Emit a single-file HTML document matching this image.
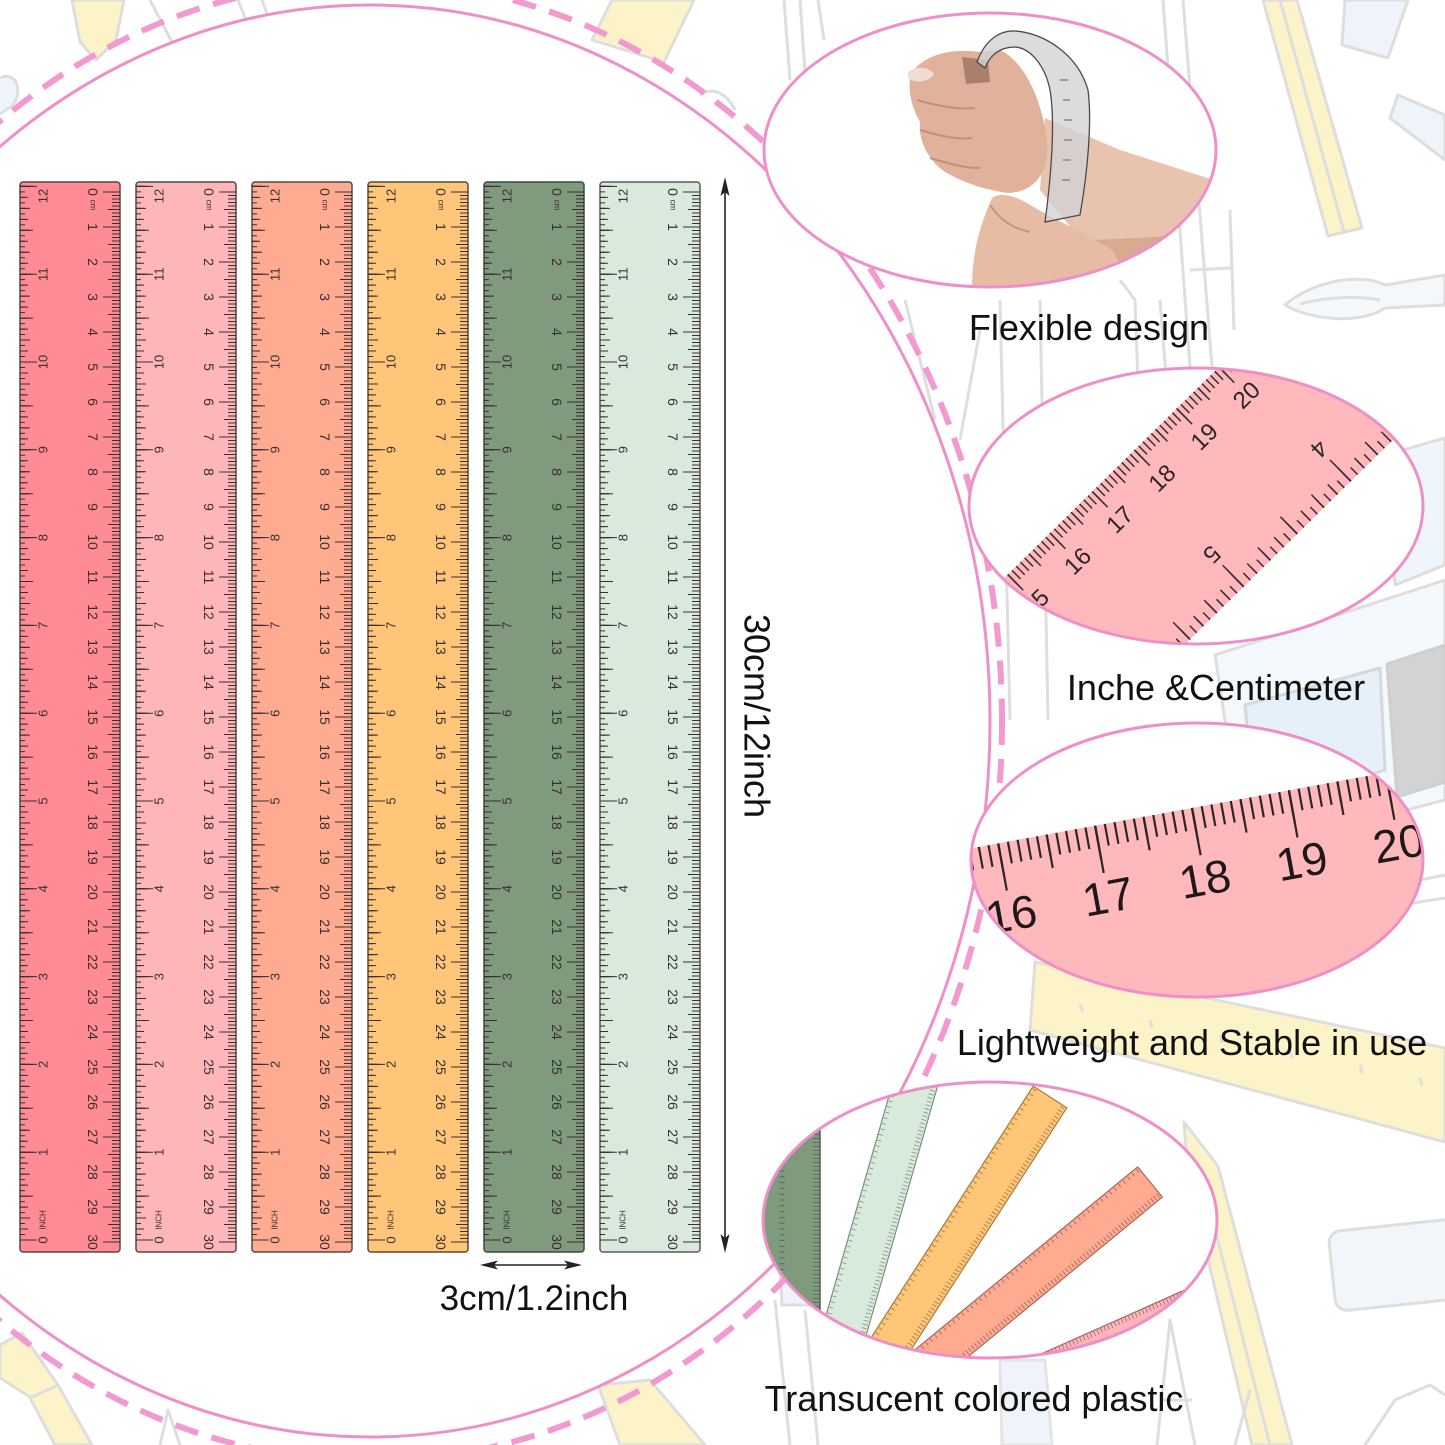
<!DOCTYPE html>
<html>
<head>
<meta charset="utf-8">
<style>
html,body{margin:0;padding:0;background:#fff;}
body{width:1445px;height:1445px;overflow:hidden;}
svg{display:block;}
text{font-family:"Liberation Sans",Arial,sans-serif;}
</style>
</head>
<body>
<svg width="1445" height="1445" viewBox="0 0 1445 1445" xmlns="http://www.w3.org/2000/svg">
<defs>
  <clipPath id="c1"><ellipse cx="990" cy="150" rx="226" ry="137"/></clipPath>
  <clipPath id="c2"><ellipse cx="1196" cy="506" rx="227" ry="138"/></clipPath>
  <clipPath id="c3"><ellipse cx="1197" cy="860" rx="226" ry="137"/></clipPath>
  <clipPath id="c4"><ellipse cx="990" cy="1220" rx="227" ry="138"/></clipPath>

  <g id="rt">
    <g stroke="#3a2f2f" fill="none">
      <line x1="9.5" y1="4" x2="1061" y2="4" stroke-width="8" stroke-dasharray="1 2.5"/>
      <line x1="9.5" y1="6" x2="1061" y2="6" stroke-width="12" stroke-dasharray="1 16.5"/>
      <line x1="9.5" y1="8.5" x2="1061" y2="8.5" stroke-width="17" stroke-dasharray="1 34"/>
      <line x1="1058.5" y1="97.5" x2="2" y2="97.5" stroke-width="5" stroke-dasharray="1 4.4875"/>
      <line x1="1058.5" y1="96" x2="2" y2="96" stroke-width="8" stroke-dasharray="1 9.975"/>
      <line x1="1058.5" y1="95" x2="2" y2="95" stroke-width="10" stroke-dasharray="1 20.95"/>
      <line x1="1058.5" y1="93.5" x2="2" y2="93.5" stroke-width="13" stroke-dasharray="1 42.9"/>
      <line x1="1058.5" y1="91.5" x2="2" y2="91.5" stroke-width="17" stroke-dasharray="1 86.8"/>
    </g>
    <g fill="#3a2f2f" font-size="14" text-anchor="middle" dominant-baseline="central">
      <text x="10" y="27">0</text>
      <text x="23" y="27" font-size="8">cm</text>
      <text x="45" y="27">1</text><text x="80" y="27">2</text><text x="115" y="27">3</text>
      <text x="150" y="27">4</text><text x="185" y="27">5</text><text x="220" y="27">6</text>
      <text x="255" y="27">7</text><text x="290" y="27">8</text><text x="325" y="27">9</text>
      <text x="360" y="27">10</text><text x="395" y="27">11</text><text x="430" y="27">12</text>
      <text x="465" y="27">13</text><text x="500" y="27">14</text><text x="535" y="27">15</text>
      <text x="570" y="27">16</text><text x="605" y="27">17</text><text x="640" y="27">18</text>
      <text x="675" y="27">19</text><text x="710" y="27">20</text><text x="745" y="27">21</text>
      <text x="780" y="27">22</text><text x="815" y="27">23</text><text x="850" y="27">24</text>
      <text x="885" y="27">25</text><text x="920" y="27">26</text><text x="955" y="27">27</text>
      <text x="990" y="27">28</text><text x="1025" y="27">29</text><text x="1060" y="27">30</text>
    </g>
    <g fill="#3a2f2f" font-size="13" text-anchor="middle" dominant-baseline="central" transform="rotate(180)">
      <text x="-1058" y="-77">0</text>
      <text x="-1038" y="-77" font-size="8">INCH</text>
      <text x="-970.2" y="-77">1</text><text x="-882.4" y="-77">2</text><text x="-794.6" y="-77">3</text>
      <text x="-706.8" y="-77">4</text><text x="-619" y="-77">5</text><text x="-531.2" y="-77">6</text>
      <text x="-443.4" y="-77">7</text><text x="-355.6" y="-77">8</text><text x="-267.8" y="-77">9</text>
      <text x="-180" y="-77">10</text><text x="-92.2" y="-77">11</text><text x="-14" y="-77">12</text>
    </g>
  </g>
</defs>

<rect width="1445" height="1445" fill="#fff"/>

<!-- background line art -->
<g stroke="#dedede" stroke-width="3" stroke-linejoin="round" fill="none">
  <polygon points="72,0 124,0 116,40 96,60 80,42" fill="#fcf4c8"/>
  <path d="M150,0 L175,48 M238,0 L250,30 M262,0 L270,22"/>
  <path d="M0,78 C16,70 24,92 12,106 L0,114" fill="#eef4fa"/>
  <polygon points="612,0 694,0 664,62 592,40" fill="#fcf4c8"/>
  <path d="M700,95 C715,85 728,96 735,110"/>
  <path d="M784,0 L790,80 M800,0 L806,86 M818,0 L824,40"/>
  <path d="M1163,0 L1190,367 M1183,0 L1212,367 M1230,210 L1234,330 M1190,270 L1232,268"/>
  <polygon points="1263,0 1297,0 1362,228 1328,236" fill="#fcf4c8"/>
  <path d="M1280,0 L1344,232"/>
  <polygon points="1345,0 1408,0 1388,58 1342,45" fill="#eef4fa"/>
  <polygon points="1398,95 1445,115 1445,160 1390,118" fill="#eef4fa"/>
  <path d="M1285,305 C1310,282 1360,272 1385,285 L1445,275 L1445,305 L1385,308 C1360,325 1310,320 1285,305 Z" fill="#f4f8fb"/>
  <path d="M1300,304 C1330,296 1360,296 1380,300"/>
  <path d="M1000,300 L1010,720 M1040,300 L1048,720 M905,300 L935,420 M980,330 L960,440"/>
  <path d="M1120,280 L1135,300 L1140,440 M1160,300 L1172,450" />
  <polygon points="1385,455 1445,438 1445,565 1395,585" fill="#eef5fb"/>
  <polygon points="1215,655 1445,580 1445,800 1245,852" fill="#f3f8fc"/>
  <polygon points="1245,705 1380,668 1385,770 1255,810" fill="#e6f0f8" stroke="#d8d8d8"/>
  <polygon points="1387,664 1445,645 1445,782 1397,797" fill="#d3d3d3" stroke="#cfcfcf"/>
  <path d="M1420,880 L1445,875 M1400,905 L1445,898"/>
  <polygon points="1035,962 1445,1048 1445,1142 1030,1030" fill="#fcf4c8"/>
  <path d="M1080,1005 L1083,1012 M1150,1020 L1152,1028 M1220,1035 L1222,1043 M1290,1050 L1292,1058 M1360,1065 L1362,1073 M1420,1078 L1422,1086"/>
  <polygon points="1184,1122 1218,1166 1292,1445 1252,1445 1188,1175" fill="#fcf4c8"/>
  <path d="M1200,1170 L1270,1445"/>
  <rect x="1328" y="1232" width="140" height="80" rx="12" fill="#f1f6fb" transform="rotate(-6 1328 1232)"/>
  <path d="M1157,1445 L1170,1320 L1195,1445 M1162,1400 L1192,1400"/>
  <path d="M1365,1445 L1395,1400 L1430,1385 L1445,1395"/>
  <path d="M1235,1445 L1250,1390"/>
  <polygon points="1000,1360 1045,1360 1052,1445 1002,1445" fill="#eef4fa" stroke="#e4e4e4"/>
  <polygon points="598,1385 650,1380 705,1445 620,1445" fill="#fcf4c8"/>
  <polygon points="780,1268 812,1270 812,1305 782,1305" fill="#eef4fa"/>
  <path d="M775,1300 L790,1445 M805,1310 L818,1445"/>
  <polygon points="0,1345 22,1333 58,1385 35,1400 0,1378" fill="#fcf4c8"/>
  <polygon points="30,1398 58,1385 92,1445 55,1445" fill="#fcf4c8"/>
  <path d="M160,1445 L168,1410 L180,1445"/>
</g>

<!-- big left ellipse -->
<ellipse cx="370" cy="721" rx="620" ry="716" fill="#fff"/>
<ellipse cx="370" cy="721" rx="632" ry="740" fill="none" stroke="#f29ad0" stroke-width="6" stroke-dasharray="24 14"/>
<ellipse cx="370" cy="721" rx="620" ry="716" fill="none" stroke="#ee8fc9" stroke-width="3"/>

<!-- E1 hand -->
<ellipse cx="990" cy="150" rx="226" ry="137" fill="#fff"/>
<g clip-path="url(#c1)">
  <polygon points="1045,118 1120,150 1220,182 1220,232 1140,262 1085,245 1040,190" fill="#e8c3ad"/>
  <path d="M1090,240 C1140,238 1180,236 1220,230 L1220,262 L1130,270 Z" fill="#d9a990"/>
  <path d="M912,72 C925,55 950,48 980,52 L1000,50 C1025,62 1042,100 1047,140 C1050,172 1035,192 1008,193 C985,190 962,182 945,172 C928,160 918,140 920,122 C912,108 906,88 912,72 Z" fill="#e0b29b"/>
  <path d="M917,100 C935,105 955,110 975,108 M920,130 C940,136 958,140 972,138 M930,158 C950,164 965,168 980,168" stroke="#c39079" stroke-width="2" fill="none"/>
  <path d="M908,72 C915,66 928,66 934,74 C928,82 916,84 908,78 Z" fill="#f1dcd2"/>
  <path d="M962,57 L988,60 L990,82 L966,84 Z" fill="#a8806c"/>
  <path d="M972,290 C972,255 978,230 992,198 C1000,192 1015,195 1032,206 C1055,220 1090,235 1112,250 C1122,262 1118,280 1108,292 Z" fill="#e6bca5"/>
  <path d="M990,205 C1000,220 1012,228 1030,232" stroke="#c8957c" stroke-width="2" fill="none"/>
  <path d="M977,62 C985,40 1000,30 1015,31 C1045,33 1078,55 1088,90 C1092,120 1088,170 1080,215 L1045,222 C1052,170 1055,120 1050,90 C1045,65 1030,48 1015,47 C1000,47 990,55 985,68 Z" fill="#d2d2d6" fill-opacity="0.78" stroke="#4a4a4a" stroke-width="1.3"/>
  <path d="M1060,80 L1068,80 M1063,100 L1070,100 M1064,120 L1072,120 M1064,140 L1072,140 M1063,160 L1071,160 M1062,180 L1070,180" stroke="#888" stroke-width="1.5"/>
</g>
<ellipse cx="990" cy="150" rx="226" ry="137" fill="none" stroke="#ee8fc9" stroke-width="3"/>

<!-- E2 -->
<ellipse cx="1196" cy="506" rx="227" ry="138" fill="#fff"/>
<g clip-path="url(#c2)">
  <g transform="translate(1050,533) rotate(-44.5)">
    <rect x="-450" y="0" width="1000" height="174" fill="#ffb8bc"/>
    <g stroke="#3a2f2f" fill="none">
      <line x1="-397.39" y1="6" x2="550" y2="6" stroke-width="12" stroke-dasharray="1.5 4.42"/>
      <line x1="-385.55" y1="8.5" x2="550" y2="8.5" stroke-width="17" stroke-dasharray="1.5 28.1"/>
      <line x1="-355.95" y1="11" x2="550" y2="11" stroke-width="22" stroke-dasharray="1.5 57.7"/>
      <line x1="-351.45" y1="169" x2="550" y2="169" stroke-width="10" stroke-dasharray="1.5 7.9"/>
      <line x1="-351.45" y1="167" x2="550" y2="167" stroke-width="14" stroke-dasharray="1.5 17.3"/>
      <line x1="-351.45" y1="165" x2="550" y2="165" stroke-width="18" stroke-dasharray="1.5 36.1"/>
      <line x1="-351.45" y1="162" x2="550" y2="162" stroke-width="24" stroke-dasharray="1.5 73.7"/>
      <line x1="-351.45" y1="159" x2="550" y2="159" stroke-width="30" stroke-dasharray="1.5 148.9"/>
    </g>
    <g fill="#2e2626" font-size="24" text-anchor="middle" dominant-baseline="central">
      <text x="-118.4" y="40">14</text><text x="-59.2" y="40">15</text><text x="0" y="40">16</text>
      <text x="59.2" y="40">17</text><text x="118.4" y="40">18</text><text x="177.6" y="40">19</text>
      <text x="236.8" y="40">20</text><text x="296" y="40">21</text>
    </g>
    <g fill="#2e2626" font-size="24" text-anchor="middle" dominant-baseline="central" transform="rotate(180)">
      <text x="-401.3" y="-128">3</text><text x="-250.9" y="-128">4</text>
      <text x="-100.5" y="-128">5</text><text x="49.9" y="-128">6</text>
    </g>
  </g>
</g>
<ellipse cx="1196" cy="506" rx="227" ry="138" fill="none" stroke="#ee8fc9" stroke-width="3"/>

<!-- E3 -->
<ellipse cx="1197" cy="860" rx="226" ry="137" fill="#fff"/>
<g clip-path="url(#c3)">
  <g transform="translate(1192,808) rotate(-10.35)">
    <rect x="-400" y="0" width="900" height="350" fill="#ffb8bc"/>
    <g stroke="#2e2626" fill="none">
      <line x1="-247.35" y1="11" x2="500" y2="11" stroke-width="22" stroke-dasharray="2.2 7.65"/>
      <line x1="-247.35" y1="17" x2="500" y2="17" stroke-width="34" stroke-dasharray="2.2 47.05"/>
      <line x1="-198.1" y1="24" x2="500" y2="24" stroke-width="48" stroke-dasharray="2.2 96.3"/>
    </g>
    <g fill="#1e1818" font-size="46" text-anchor="middle" dominant-baseline="central">
      <text x="-295.5" y="72">15</text><text x="-197" y="72">16</text><text x="-98.5" y="72">17</text>
      <text x="0" y="72">18</text><text x="98.5" y="72">19</text><text x="197" y="72">20</text>
      <text x="295.5" y="72">21</text>
    </g>
  </g>
</g>
<ellipse cx="1197" cy="860" rx="226" ry="137" fill="none" stroke="#ee8fc9" stroke-width="3"/>

<!-- E4 fan -->
<ellipse cx="990" cy="1220" rx="227" ry="138" fill="#fff"/>
<g clip-path="url(#c4)">
  <rect x="740" y="1128" width="80" height="190" fill="#7f9a7d" stroke="#4e5e4c" stroke-width="1.5"/>
  <line x1="816" y1="1130" x2="816" y2="1320" stroke="#2f3a2f" stroke-opacity="0.6" stroke-width="6" stroke-dasharray="0.8 3.2"/>
  <line x1="782" y1="1130" x2="782" y2="1320" stroke="#2f3a2f" stroke-opacity="0.6" stroke-width="5" stroke-dasharray="0.8 5"/>

  <g transform="translate(915,1085) rotate(16)">
    <rect x="-22" y="-30" width="44" height="320" fill="#d8eadb" stroke="#7d8c7e" stroke-width="1.2"/>
    <line x1="18" y1="-30" x2="18" y2="290" stroke="#3c4a3c" stroke-opacity="0.55" stroke-width="5" stroke-dasharray="0.8 3"/>
    <line x1="-19" y1="-30" x2="-19" y2="290" stroke="#3c4a3c" stroke-opacity="0.55" stroke-width="4" stroke-dasharray="0.8 5"/>
  </g>
  <g transform="translate(1050,1097) rotate(32.8)">
    <rect x="-20" y="0" width="40" height="320" fill="#ffc678" stroke="#a97a3a" stroke-width="1.2"/>
    <line x1="16" y1="2" x2="16" y2="320" stroke="#4a3520" stroke-opacity="0.55" stroke-width="5" stroke-dasharray="0.8 3"/>
    <line x1="-17" y1="2" x2="-17" y2="320" stroke="#4a3520" stroke-opacity="0.55" stroke-width="4" stroke-dasharray="0.8 5"/>
  </g>
  <g transform="translate(1150,1182) rotate(50.6)">
    <rect x="-19.5" y="0" width="39" height="320" fill="#ffab92" stroke="#a9665a" stroke-width="1.2"/>
    <line x1="15.5" y1="2" x2="15.5" y2="320" stroke="#4a2a22" stroke-opacity="0.55" stroke-width="5" stroke-dasharray="0.8 3"/>
    <line x1="-16.5" y1="2" x2="-16.5" y2="320" stroke="#4a2a22" stroke-opacity="0.55" stroke-width="4" stroke-dasharray="0.8 5"/>
  </g>
  <g transform="translate(1050,1350) rotate(-24)">
    <rect x="-200" y="0" width="500" height="40" fill="#ffb6ba" stroke="#a9666a" stroke-width="1.2"/>
    <line x1="-200" y1="3" x2="300" y2="3" stroke="#4a2a2a" stroke-opacity="0.55" stroke-width="5" stroke-dasharray="0.8 3"/>
  </g>
</g>
<ellipse cx="990" cy="1220" rx="227" ry="138" fill="none" stroke="#ee8fc9" stroke-width="3"/>

<!-- six vertical rulers -->
<g transform="translate(120,182) rotate(90)"><rect width="1070" height="100" rx="3" fill="#ff8b95" stroke="#5a4646" stroke-width="1.5"/><use href="#rt"/></g>
<g transform="translate(236,182) rotate(90)"><rect width="1070" height="100" rx="3" fill="#ffb6b9" stroke="#5a4646" stroke-width="1.5"/><use href="#rt"/></g>
<g transform="translate(352,182) rotate(90)"><rect width="1070" height="100" rx="3" fill="#ffab92" stroke="#5a4646" stroke-width="1.5"/><use href="#rt"/></g>
<g transform="translate(468,182) rotate(90)"><rect width="1070" height="100" rx="3" fill="#ffc679" stroke="#5a4a36" stroke-width="1.5"/><use href="#rt"/></g>
<g transform="translate(584,182) rotate(90)"><rect width="1070" height="100" rx="3" fill="#7f9a7d" stroke="#3e4a3e" stroke-width="1.5"/><use href="#rt"/></g>
<g transform="translate(700,182) rotate(90)"><rect width="1070" height="100" rx="3" fill="#d9eadc" stroke="#5a5a5a" stroke-width="1.5"/><use href="#rt"/></g>

<!-- dimension arrows -->
<line x1="725" y1="188" x2="725" y2="1242" stroke="#222" stroke-width="1.6"/>
<path d="M725,177 L720.5,196 L725,192 L729.5,196 Z" fill="#222"/>
<path d="M725,1253 L720.5,1234 L725,1238 L729.5,1234 Z" fill="#222"/>
<line x1="490" y1="1265" x2="572" y2="1265" stroke="#222" stroke-width="1.6"/>
<path d="M480,1265 L498,1260.5 L494,1265 L498,1269.5 Z" fill="#222"/>
<path d="M582,1265 L564,1260.5 L568,1265 L564,1269.5 Z" fill="#222"/>

<!-- texts -->
<g fill="#111" font-size="36">
  <text x="757" y="716" transform="rotate(90 757 716)" text-anchor="middle" dominant-baseline="central">30cm/12inch</text>
  <text x="534" y="1310" font-size="35" text-anchor="middle">3cm/1.2inch</text>
  <text x="1089" y="340" text-anchor="middle">Flexible design</text>
  <text x="1216" y="700" text-anchor="middle">Inche &amp;Centimeter</text>
  <text x="1192" y="1055" text-anchor="middle">Lightweight and Stable in use</text>
  <text x="974" y="1411" text-anchor="middle">Transucent colored plastic</text>
</g>
</svg>
</body>
</html>
